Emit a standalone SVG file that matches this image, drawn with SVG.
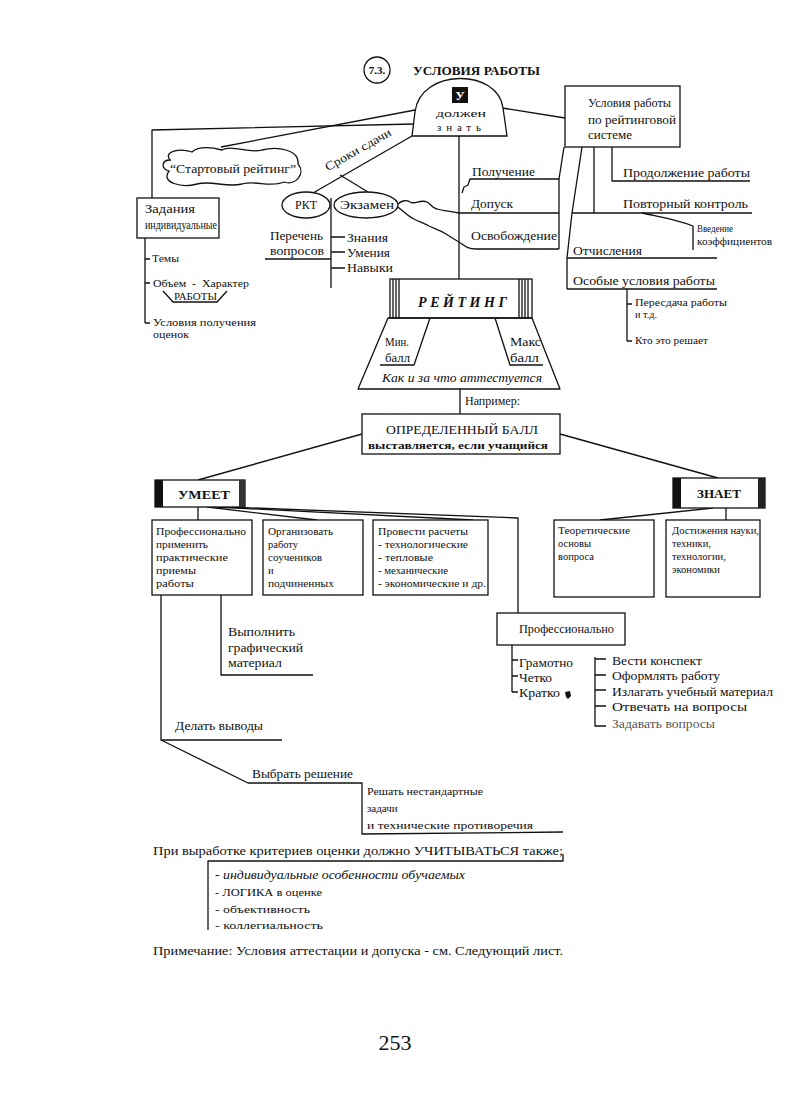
<svg xmlns="http://www.w3.org/2000/svg" width="789" height="1110" viewBox="0 0 789 1110">
<style>
.t{font-family:"Liberation Serif","Times New Roman",serif;fill:#111}
.b{font-weight:bold}
.i{font-style:italic}
.m{text-anchor:middle}
.ln{fill:none;stroke:#111;stroke-width:1.3;stroke-linejoin:round}
.bx{fill:#fff;stroke:#111;stroke-width:1.3}
.s9{font-size:9.5px}
.s10{font-size:10.5px}
.s11{font-size:11px}
.s12{font-size:12px}
.s13{font-size:13px}
.s14{font-size:14px}
</style>
<rect width="789" height="1110" fill="#fff"/>

<g id="connectors" class="ln">
<path d="M414,124 L152,130 L152,198"/>
<path d="M415,110 L221,147"/>
<path d="M412,136 L313,193"/>
<path d="M340,175 L368,192"/>
<path d="M331,198 L331,288"/>
<path d="M265,259 L331,259"/>
<path d="M331,237 L345,237 M331,252 L345,252 M331,268 L345,268"/>
<path d="M398,204 C402,200 407,200 410,202 C415,205 420,199 427,202 C431,204 432,208 437,209 C443,211 450,211 459,213"/>
<path d="M398,207 C404,212 409,217 414,219 C420,222 424,223 429,226 C435,229 440,230 446,234 C452,238 456,240 462,244 C466,247 469,249 476,249 L559,249"/>
<path d="M459,136 L459,279"/>
<path d="M462,193 L464,187 L468,185 L470,179 L559,179 L564,147"/>
<path d="M459,213 L559,213"/>
<path d="M559,179 L559,249"/>
<path d="M502,108 L565,118"/>
<path d="M612,147 L612,181 L750,181"/>
<path d="M594,147 L594,213"/>
<path d="M572,213 L752,213"/>
<path d="M582,147 L572,213 L567,258 L567,289"/>
<path d="M567,258 L717,258"/>
<path d="M567,289 L717,289"/>
<path d="M642,213 C660,217 675,219 693,226 L693,250"/>
<path d="M627,289 L627,341 M627,304 L632,304 M627,341 L632,341"/>
<path d="M145,238 L145,323 M145,259 L150,259 M145,283 L150,283 M145,323 L150,323"/>
<path d="M163,291 L173,302 L217,302 L227,291"/>
<path d="M460,389 L460,414"/>
<path d="M362,434 L198,480"/>
<path d="M560,434 L718,478"/>
<path d="M198,507 L198,520"/>
<path d="M207,507 L317,520"/>
<path d="M215,507 L473,520"/>
<path d="M228,507 L518,518 L518,613"/>
<path d="M713,508 L600,520"/>
<path d="M726,508 L726,520"/>
<path d="M221,595 L221,675 L313,675"/>
<path d="M161,595 L161,740 L282,740"/>
<path d="M161,740 L248,783 L362,783 L362,834 L563,832"/>
<path d="M512,645 L512,692 M512,660 L518,660 M512,676 L518,676 M512,692 L518,692"/>
<path d="M595,657 L595,726 L606,726 M595,659 L606,659 M595,675 L606,675 M595,690 L606,690 M595,706 L606,706"/>
<path d="M208,930 L208,861 L563,861 L563,854"/>
</g>

<g id="title">
<circle cx="377" cy="70" r="13" class="ln"/>
<text class="t b s11 m" x="377" y="74">7.3.</text>
<text class="t b s13" x="413" y="75" textLength="127" lengthAdjust="spacingAndGlyphs">УСЛОВИЯ РАБОТЫ</text>
</g>

<g id="dome">
<path class="bx" d="M412,136 L415,112 C420,68 498,68 503,108 L507,136 Z"/>
<rect x="452" y="87" width="16" height="16" fill="#111"/>
<text class="t b s13 m" x="460" y="100" fill="#fff" style="fill:#fff">У</text>
<text class="t s11" x="436" y="117" textLength="50" lengthAdjust="spacingAndGlyphs">должен</text>
<text class="t s11" x="437" y="131" textLength="44" lengthAdjust="spacing">знать</text>
</g>

<g id="rating-system">
<rect class="bx" x="565" y="86" width="115" height="61"/>
<text class="t s12" x="588" y="107" textLength="83" lengthAdjust="spacingAndGlyphs">Условия работы</text>
<text class="t s12" x="588" y="124" textLength="88" lengthAdjust="spacingAndGlyphs">по рейтинговой</text>
<text class="t s12" x="588" y="139" textLength="44" lengthAdjust="spacingAndGlyphs">системе</text>
</g>

<g id="start-rating">
<path class="bx" d="M170,160 C163,151 180,148 192,152 C200,145 214,148 222,150 C232,144 248,154 262,150 C278,146 300,150 298,164 C306,173 296,186 284,182 C270,188 256,180 242,184 C226,188 212,180 197,184 C182,188 160,183 169,171 C160,168 162,160 170,160 Z"/>
<text class="t s12" x="170" y="173" textLength="126" lengthAdjust="spacingAndGlyphs">“Стартовый рейтинг”</text>
</g>

<g id="deadlines">
<text class="t s12 m" x="0" y="0" transform="translate(360,153) rotate(-29.5)" textLength="74" lengthAdjust="spacingAndGlyphs">Сроки сдачи</text>
</g>

<g id="rkt">
<ellipse class="bx" cx="306" cy="205" rx="24" ry="13"/>
<text class="t s12 m" x="306" y="209">РКТ</text>
</g>

<g id="exam">
<ellipse class="bx" cx="366" cy="205" rx="32" ry="13"/>
<text class="t s12 m" x="367" y="209" textLength="54" lengthAdjust="spacingAndGlyphs">Экзамен</text>
</g>

<g id="rkt-items">
<text class="t s12" x="270" y="240" textLength="53" lengthAdjust="spacingAndGlyphs">Перечень</text>
<text class="t s12" x="270" y="255" textLength="54" lengthAdjust="spacingAndGlyphs">вопросов</text>
<text class="t s12" x="347" y="242" textLength="41" lengthAdjust="spacingAndGlyphs">Знания</text>
<text class="t s12" x="347" y="257" textLength="43" lengthAdjust="spacingAndGlyphs">Умения</text>
<text class="t s12" x="347" y="272" textLength="46" lengthAdjust="spacingAndGlyphs">Навыки</text>
</g>

<g id="individual-tasks">
<rect class="bx" x="137" y="198" width="82" height="40"/>
<text class="t s12" x="145" y="213" textLength="50" lengthAdjust="spacingAndGlyphs">Задания</text>
<text class="t s12" x="145" y="229" textLength="72" lengthAdjust="spacingAndGlyphs">индивидуальные</text>
</g>

<g id="task-items">
<text class="t s9" x="152" y="262" textLength="27" lengthAdjust="spacingAndGlyphs">Темы</text>
<text class="t s10" x="153" y="287" textLength="96" lengthAdjust="spacingAndGlyphs" xml:space="preserve">Объем  -  Характер</text>
<text class="t s10" x="174" y="300" textLength="43" lengthAdjust="spacingAndGlyphs">РАБОТЫ</text>
<text class="t s9" x="153" y="326" textLength="103" lengthAdjust="spacingAndGlyphs">Условия получения</text>
<text class="t s9" x="153" y="338" textLength="36" lengthAdjust="spacingAndGlyphs">оценок</text>
</g>

<g id="admission">
<text class="t s12" x="472" y="176" textLength="63" lengthAdjust="spacingAndGlyphs">Получение</text>
<text class="t s12" x="471" y="208" textLength="42" lengthAdjust="spacingAndGlyphs">Допуск</text>
<text class="t s12" x="471" y="240" textLength="86" lengthAdjust="spacingAndGlyphs">Освобождение</text>
</g>

<g id="rating-items">
<text class="t s12" x="623" y="177" textLength="127" lengthAdjust="spacingAndGlyphs">Продолжение работы</text>
<text class="t s12" x="623" y="208" textLength="125" lengthAdjust="spacingAndGlyphs">Повторный контроль</text>
<text class="t s9" x="697" y="232" textLength="36" lengthAdjust="spacingAndGlyphs">Введение</text>
<text class="t s9" x="697" y="245" textLength="75" lengthAdjust="spacingAndGlyphs">коэффициентов</text>
<text class="t s12" x="573" y="255" textLength="69" lengthAdjust="spacingAndGlyphs">Отчисления</text>
<text class="t s12" x="573" y="285" textLength="142" lengthAdjust="spacingAndGlyphs">Особые условия работы</text>
<text class="t s9" x="635" y="306" textLength="92" lengthAdjust="spacingAndGlyphs">Пересдача работы</text>
<text class="t s9" x="635" y="318" textLength="22" lengthAdjust="spacingAndGlyphs">и т.д.</text>
<text class="t s9" x="635" y="344" textLength="73" lengthAdjust="spacingAndGlyphs">Кто это решает</text>
</g>

<g id="rating">
<rect class="bx" x="390" y="279" width="142" height="39"/>
<path class="ln" d="M393,279 V318 M396,279 V318 M399,279 V318 M519,279 V318 M522,279 V318 M525,279 V318 M528,279 V318" stroke-width="1.6"/>
<text class="t b i s14" x="418" y="307" textLength="89" lengthAdjust="spacing">РЕЙТИНГ</text>
</g>

<g id="rating-base">
<path class="ln" d="M388,318 L532,318 L560,389 L358,389 Z"/>
<path class="ln" d="M430,318 L414,365 L380,365 M495,318 L510,365 L543,365"/>
<text class="t s12" x="385" y="346" textLength="24" lengthAdjust="spacingAndGlyphs">Мин.</text>
<text class="t s12" x="385" y="362" textLength="25" lengthAdjust="spacingAndGlyphs">балл</text>
<text class="t s12" x="510" y="346" textLength="31" lengthAdjust="spacingAndGlyphs">Макс</text>
<text class="t s12" x="510" y="362" textLength="29" lengthAdjust="spacingAndGlyphs">балл</text>
<text class="t i s12" x="382" y="382" textLength="160" lengthAdjust="spacingAndGlyphs">Как и за что аттестуется</text>
<text class="t s12" x="465" y="405" textLength="55" lengthAdjust="spacingAndGlyphs">Например:</text>
</g>

<g id="score">
<rect class="bx" x="362" y="414" width="198" height="40"/>
<text class="t s13" x="386" y="434" textLength="152" lengthAdjust="spacingAndGlyphs">ОПРЕДЕЛЕННЫЙ БАЛЛ</text>
<text class="t b s11" x="368" y="449" textLength="180" lengthAdjust="spacingAndGlyphs">выставляется, если учащийся</text>
</g>

<g id="can">
<rect class="bx" x="155" y="480" width="90" height="27"/>
<rect x="155" y="480" width="8" height="27" fill="#111"/>
<rect x="239" y="480" width="6" height="27" fill="#333"/>
<text class="t b s13 m" x="204" y="499" textLength="52" lengthAdjust="spacingAndGlyphs">УМЕЕТ</text>
</g>

<g id="knows">
<rect class="bx" x="673" y="478" width="92" height="30"/>
<rect x="673" y="478" width="8" height="30" fill="#111"/>
<rect x="758" y="478" width="7" height="30" fill="#222"/>
<text class="t b s13 m" x="719" y="498" textLength="44" lengthAdjust="spacingAndGlyphs">ЗНАЕТ</text>
</g>

<g id="can-1">
<rect class="bx" x="152" y="520" width="100" height="75"/>
<text class="t s10" x="156" y="535" textLength="90" lengthAdjust="spacingAndGlyphs">Профессионально</text>
<text class="t s10" x="156" y="548" textLength="52" lengthAdjust="spacingAndGlyphs">применить</text>
<text class="t s10" x="156" y="561" textLength="72" lengthAdjust="spacingAndGlyphs">практические</text>
<text class="t s10" x="156" y="574" textLength="40" lengthAdjust="spacingAndGlyphs">приемы</text>
<text class="t s10" x="156" y="587" textLength="38" lengthAdjust="spacingAndGlyphs">работы</text>
</g>

<g id="can-2">
<rect class="bx" x="263" y="520" width="100" height="75"/>
<text class="t s10" x="268" y="535" textLength="65" lengthAdjust="spacingAndGlyphs">Организовать</text>
<text class="t s10" x="268" y="548">работу</text>
<text class="t s10" x="268" y="561" textLength="54" lengthAdjust="spacingAndGlyphs">соучеников</text>
<text class="t s10" x="268" y="574">и</text>
<text class="t s10" x="268" y="587" textLength="66" lengthAdjust="spacingAndGlyphs">подчиненных</text>
</g>

<g id="can-3">
<rect class="bx" x="373" y="520" width="115" height="75"/>
<text class="t s10" x="378" y="535" textLength="90" lengthAdjust="spacingAndGlyphs">Провести расчеты</text>
<text class="t s10" x="378" y="548" textLength="90" lengthAdjust="spacingAndGlyphs">- технологические</text>
<text class="t s10" x="378" y="561" textLength="55" lengthAdjust="spacingAndGlyphs">- тепловые</text>
<text class="t s10" x="378" y="574" textLength="70" lengthAdjust="spacingAndGlyphs">- механические</text>
<text class="t s10" x="378" y="587" textLength="108" lengthAdjust="spacingAndGlyphs">- экономические и др.</text>
</g>

<g id="knows-1">
<rect class="bx" x="554" y="520" width="100" height="77"/>
<text class="t s10" x="558" y="534" textLength="72" lengthAdjust="spacingAndGlyphs">Теоретические</text>
<text class="t s10" x="558" y="547">основы</text>
<text class="t s10" x="558" y="560">вопроса</text>
</g>

<g id="knows-2">
<rect class="bx" x="666" y="520" width="94" height="77"/>
<text class="t s10" x="672" y="534" textLength="87" lengthAdjust="spacingAndGlyphs">Достижения науки,</text>
<text class="t s10" x="672" y="547">техники,</text>
<text class="t s10" x="672" y="560">технологии,</text>
<text class="t s10" x="672" y="573">экономики</text>
</g>

<g id="graphic">
<text class="t s13" x="228" y="636" textLength="67" lengthAdjust="spacingAndGlyphs">Выполнить</text>
<text class="t s13" x="228" y="652" textLength="75" lengthAdjust="spacingAndGlyphs">графический</text>
<text class="t s13" x="228" y="667" textLength="54" lengthAdjust="spacingAndGlyphs">материал</text>
</g>

<g id="conclusions">
<text class="t s12" x="175" y="730" textLength="88" lengthAdjust="spacingAndGlyphs">Делать выводы</text>
</g>

<g id="decision">
<text class="t s12" x="252" y="778" textLength="101" lengthAdjust="spacingAndGlyphs">Выбрать решение</text>
</g>

<g id="nonstandard">
<text class="t s11" x="367" y="795" textLength="116" lengthAdjust="spacingAndGlyphs">Решать нестандартные</text>
<text class="t s11" x="367" y="812">задачи</text>
<text class="t s11" x="367" y="829" textLength="166" lengthAdjust="spacingAndGlyphs">и технические противоречия</text>
</g>

<g id="professional">
<rect class="bx" x="497" y="613" width="128" height="32"/>
<text class="t s12" x="519" y="633" textLength="95" lengthAdjust="spacingAndGlyphs">Профессионально</text>
</g>

<g id="prof-how">
<text class="t s12" x="519" y="667" textLength="54" lengthAdjust="spacingAndGlyphs">Грамотно</text>
<text class="t s12" x="519" y="682" textLength="33" lengthAdjust="spacingAndGlyphs">Четко</text>
<text class="t s12" x="519" y="697" textLength="41" lengthAdjust="spacingAndGlyphs">Кратко</text>
<path d="M565,692 L570,691 L571,696 L568,699 L566,697 Z" fill="#111"/>
</g>

<g id="prof-what">
<text class="t s12" x="612" y="665" textLength="90" lengthAdjust="spacingAndGlyphs">Вести конспект</text>
<text class="t s12" x="612" y="680" textLength="108" lengthAdjust="spacingAndGlyphs">Оформлять работу</text>
<text class="t s12" x="612" y="696" textLength="161" lengthAdjust="spacingAndGlyphs">Излагать учебный материал</text>
<text class="t s12" x="612" y="711" textLength="135" lengthAdjust="spacingAndGlyphs">Отвечать на вопросы</text>
<text class="t s12" x="612" y="728" textLength="103" lengthAdjust="spacingAndGlyphs" style="fill:#555">Задавать вопросы</text>
</g>

<g id="criteria">
<text class="t s13" x="153" y="855" textLength="410" lengthAdjust="spacingAndGlyphs">При выработке критериев оценки должно УЧИТЫВАТЬСЯ также;</text>
<text class="t i s12" x="215" y="879" textLength="250" lengthAdjust="spacingAndGlyphs">- индивидуальные особенности обучаемых</text>
<text class="t s11" x="215" y="896" textLength="107" lengthAdjust="spacingAndGlyphs">- ЛОГИКА в оценке</text>
<text class="t s11" x="215" y="913" textLength="95" lengthAdjust="spacingAndGlyphs">- объективность</text>
<text class="t s11" x="215" y="929" textLength="108" lengthAdjust="spacingAndGlyphs">- коллегиальность</text>
</g>

<g id="note">
<text class="t s12" x="153" y="955" textLength="410" lengthAdjust="spacingAndGlyphs">Примечание:  Условия аттестации и допуска - см. Следующий лист.</text>
</g>

<g id="page-number">
<text class="t m" x="395" y="1050" style="font-size:22px">253</text>
</g>
</svg>
